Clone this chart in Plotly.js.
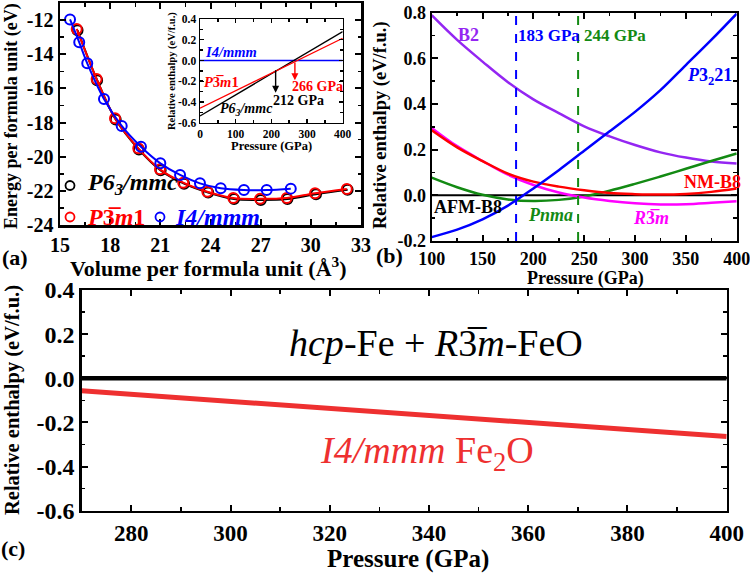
<!DOCTYPE html>
<html><head><meta charset="utf-8">
<script src="https://cdn.plot.ly/plotly-3.0.1.min.js"></script>
<style>html,body{margin:0;padding:0;background:#fff}#chart{width:750px;height:574px}</style>
</head><body><div id="chart"></div>
<script>
// ---------- Panel (a): E(V) ----------
const volP63  = [16.05, 17.22, 18.33, 19.72, 21.02, 22.42, 23.86, 25.41, 27.01, 28.6, 30.31, 32.2];
const eP63    = [-12.6, -15.52, -17.82, -19.58, -20.8, -21.58, -22.1, -22.48, -22.53, -22.48, -22.2, -21.94];
const volP3m1 = [16.0, 17.19, 18.29, 19.68, 20.98, 22.37, 23.81, 25.36, 26.96, 28.56, 30.25, 32.15];
const eP3m1   = [-12.52, -15.45, -17.75, -19.51, -20.74, -21.52, -22.05, -22.42, -22.47, -22.42, -22.14, -21.89];
const volI4   = [15.6, 16.15, 16.63, 17.63, 18.69, 19.84, 21.0, 22.18, 23.37, 24.61, 26.0, 27.36, 28.8];
const eI4     = [-11.96, -13.3, -14.53, -16.62, -18.2, -19.42, -20.39, -21.07, -21.56, -21.85, -21.95, -21.95, -21.87];
const aXTicks = [15, 18, 21, 24, 27, 30, 33];
const aYTicks = [-24, -22, -20, -18, -16, -14, -12];
const aYText  = ['-24', '-22', '-20', '-18', '-16', '-14', '-12'];

// ---------- Inset: relative enthalpy of Fe2O ----------
const pInset   = [0, 400];
const hInP63   = [-0.535, 0.278];
const hInP3m1  = [-0.461, 0.214];
const hInI4    = [0, 0];
const crossP   = [212, 266];
const inXTicks = [0, 100, 200, 300, 400];
const inYTicks = [-0.6, -0.4, -0.2, 0, 0.2, 0.4];
const inYText  = ['-0.6', '-0.4', '-0.2', '0.0', '0.2', '0.4'];

// ---------- Panel (b): FeO phases ----------
const pB     = [100, 125, 150, 175, 200, 225, 250, 275, 300, 325, 350, 375, 400];
const hB2    = [0.788, 0.68, 0.585, 0.495, 0.42, 0.36, 0.302, 0.258, 0.22, 0.188, 0.165, 0.148, 0.139];
const hP3221 = [-0.183, -0.15, -0.105, -0.045, 0.03, 0.11, 0.195, 0.28, 0.365, 0.46, 0.57, 0.68, 0.795];
const hNMB8  = [0.285, 0.21, 0.15, 0.095, 0.06, 0.038, 0.022, 0.01, 0.005, 0.003, 0.006, 0.015, 0.03];
const hR3m   = [0.295, 0.215, 0.15, 0.09, 0.045, 0.012, -0.01, -0.025, -0.035, -0.04, -0.039, -0.033, -0.026];
const hPnma  = [0.077, 0.035, 0.002, -0.018, -0.025, -0.02, -0.005, 0.02, 0.05, 0.082, 0.116, 0.15, 0.183];
const hAFMB8 = [0, 0, 0, 0, 0, 0, 0, 0, 0, 0, 0, 0, 0];
const transP = [183, 244];
const bXTicks = [100, 150, 200, 250, 300, 350, 400];
const bYTicks = [-0.2, 0, 0.2, 0.4, 0.6, 0.8];
const bYText  = ['-0.2', '0.0', '0.2', '0.4', '0.6', '0.8'];

// ---------- Panel (c): Fe2O vs hcp-Fe + FeO ----------
const pC     = [270, 400];
const hRef   = [0, 0];
const hFe2O  = [-0.057, -0.264];
const cXTicks = [280, 300, 320, 340, 360, 380, 400];
const cYTicks = [-0.6, -0.4, -0.2, 0, 0.2, 0.4];
const cYText  = ['-0.6', '-0.4', '-0.2', '0.0', '0.2', '0.4'];

// ---------- helpers ----------
const FF = 'Liberation Serif';
const W = 750, H = 574;
const px = x => x / W, py = y => 1 - y / H;
const BLUE = '#0000ff', RED = '#ff0000', PURPLE = '#9426f2', MAG = '#ff00ff', GREEN = '#138a13';
const BAR3 = '3\u0305';

function ax(o) {
  return Object.assign({
    showgrid: false, zeroline: false, showline: true, linecolor: 'black', linewidth: 2,
    mirror: 'allticks', ticks: 'inside', ticklen: 6, tickwidth: 2, tickcolor: 'black',
    tickmode: 'array', fixedrange: true, ticklabeloverflow: 'allow',
    tickfont: {family: FF, size: 18, color: 'black', weight: 'bold'}
  }, o);
}
function minor(d, t0, len) { return {ticks: 'inside', ticklen: len || 3.5, tickwidth: 1.5, tickcolor: 'black', dtick: d, tick0: t0}; }
function ann(text, x, y, size, color, opt) {
  return Object.assign({text: text, x: px(x), y: py(y), xref: 'paper', yref: 'paper', showarrow: false,
    xanchor: 'center', yanchor: 'middle',
    font: {family: FF, size: size, color: color || 'black', weight: 'bold'}}, opt || {});
}

const traces = [
  // (a)
  {x: volP63, y: eP63, xaxis: 'x', yaxis: 'y', mode: 'lines+markers', line: {color: 'black', width: 2, shape: 'spline'},
   marker: {symbol: 'circle-open', size: 10, color: 'black', line: {width: 2}}},
  {x: volP3m1, y: eP3m1, xaxis: 'x', yaxis: 'y', mode: 'lines+markers', line: {color: RED, width: 2, shape: 'spline'},
   marker: {symbol: 'circle-open', size: 10, color: RED, line: {width: 2}}},
  {x: volI4, y: eI4, xaxis: 'x', yaxis: 'y', mode: 'lines+markers', line: {color: BLUE, width: 2, shape: 'spline'},
   marker: {symbol: 'circle-open', size: 10, color: BLUE, line: {width: 2}}},
  // inset
  {x: pInset, y: hInI4, xaxis: 'x2', yaxis: 'y2', mode: 'lines', line: {color: BLUE, width: 1.3}},
  {x: pInset, y: hInP63, xaxis: 'x2', yaxis: 'y2', mode: 'lines', line: {color: 'black', width: 1.3}},
  {x: pInset, y: hInP3m1, xaxis: 'x2', yaxis: 'y2', mode: 'lines', line: {color: RED, width: 1.3}},
  // (b)
  {x: pB, y: hAFMB8, xaxis: 'x3', yaxis: 'y3', mode: 'lines', line: {color: 'black', width: 2}},
  {x: pB, y: hB2, xaxis: 'x3', yaxis: 'y3', mode: 'lines', line: {color: PURPLE, width: 2.5, shape: 'spline'}},
  {x: pB, y: hPnma, xaxis: 'x3', yaxis: 'y3', mode: 'lines', line: {color: GREEN, width: 2.5, shape: 'spline'}},
  {x: pB, y: hR3m, xaxis: 'x3', yaxis: 'y3', mode: 'lines', line: {color: MAG, width: 2.5, shape: 'spline'}},
  {x: pB, y: hNMB8, xaxis: 'x3', yaxis: 'y3', mode: 'lines', line: {color: RED, width: 2.5, shape: 'spline'}},
  {x: pB, y: hP3221, xaxis: 'x3', yaxis: 'y3', mode: 'lines', line: {color: BLUE, width: 2.5, shape: 'spline'}},
  // (c)
  {x: pC, y: hRef, xaxis: 'x4', yaxis: 'y4', mode: 'lines', line: {color: 'black', width: 4.5}},
  {x: pC, y: hFe2O, xaxis: 'x4', yaxis: 'y4', mode: 'lines', line: {color: '#ee3030', width: 5}}
];

const layout = {
  width: W, height: H, margin: {l: 0, r: 0, t: 0, b: 0}, showlegend: false,
  paper_bgcolor: 'white', plot_bgcolor: 'rgba(0,0,0,0)',
  font: {family: FF, color: 'black'},
  xaxis: ax({domain: [px(60), px(361)], range: [15, 33], anchor: 'y', tickvals: aXTicks, linewidth: 2.5,
    tickfont: {family: FF, size: 20, color: 'black', weight: 'bold'}, minor: minor(1.5, 15)}),
  yaxis: ax({domain: [py(225), py(3)], range: [-24, -11], anchor: 'x', tickvals: aYTicks, ticktext: aYText, linewidth: 2.5,
    tickfont: {family: FF, size: 20, color: 'black', weight: 'bold'}, minor: minor(1, -24)}),
  xaxis2: ax({domain: [px(200), px(342.7)], range: [0, 400], anchor: 'y2', tickvals: inXTicks, linewidth: 1.5,
    ticklen: 4, tickwidth: 1.3, tickfont: {family: FF, size: 11.5, color: 'black', weight: 'bold'}, minor: minor(50, 0, 2.5)}),
  yaxis2: ax({domain: [py(122.7), py(19)], range: [-0.6, 0.4], anchor: 'x2', tickvals: inYTicks, ticktext: inYText, linewidth: 1.5,
    ticklen: 4, tickwidth: 1.3, tickfont: {family: FF, size: 11.5, color: 'black', weight: 'bold'}, minor: minor(0.1, -0.6, 2.5)}),
  xaxis3: ax({domain: [px(431.7), px(736.7)], range: [100, 400], anchor: 'y3', tickvals: bXTicks, minor: minor(25, 100),
    tickfont: {family: FF, size: 18, color: 'black', weight: 'bold'}}),
  yaxis3: ax({domain: [py(241), py(12.5)], range: [-0.2, 0.8], anchor: 'x3', tickvals: bYTicks, ticktext: bYText, minor: minor(0.1, -0.2),
    tickfont: {family: FF, size: 18, color: 'black', weight: 'bold'}}),
  xaxis4: ax({domain: [px(81.7), px(726.7)], range: [270, 400], anchor: 'y4', tickvals: cXTicks, linewidth: 2.5,
    tickfont: {family: FF, size: 23, color: 'black', weight: 'bold'}, minor: minor(10, 270)}),
  yaxis4: ax({domain: [py(510.7), py(290)], range: [-0.6, 0.4], anchor: 'x4', tickvals: cYTicks, ticktext: cYText, linewidth: 2.5,
    tickfont: {family: FF, size: 24, color: 'black', weight: 'bold'}, minor: minor(0.1, -0.6)}),
  shapes: [
    {type: 'line', xref: 'x3', yref: 'y3 domain', x0: transP[0], x1: transP[0], y0: 0, y1: 1, line: {color: BLUE, width: 2, dash: 'dash'}},
    {type: 'line', xref: 'x3', yref: 'y3 domain', x0: transP[1], x1: transP[1], y0: 0, y1: 1, line: {color: GREEN, width: 2, dash: 'dash'}},
    // legend symbols in (a)
    {type: 'circle', xref: 'paper', yref: 'paper', xsizemode: 'pixel', ysizemode: 'pixel', xanchor: px(70), yanchor: py(185.5),
     x0: -4.5, x1: 4.5, y0: -4.5, y1: 4.5, line: {color: 'black', width: 1.8}},
    {type: 'circle', xref: 'paper', yref: 'paper', xsizemode: 'pixel', ysizemode: 'pixel', xanchor: px(70), yanchor: py(217),
     x0: -4.5, x1: 4.5, y0: -4.5, y1: 4.5, line: {color: RED, width: 1.8}},
    {type: 'circle', xref: 'paper', yref: 'paper', xsizemode: 'pixel', ysizemode: 'pixel', xanchor: px(160), yanchor: py(217),
     x0: -4.5, x1: 4.5, y0: -4.5, y1: 4.5, line: {color: BLUE, width: 1.8}}
  ],
  annotations: [
    // panel (a)
    ann('Energy per formula unit (eV)', 11, 116, 18, 'black', {textangle: -90}),
    ann('Volume per formula unit (Å<sup>3</sup>)', 208, 267, 22),
    ann('(a)', 15, 257, 22),
    ann('<i>P6<sub>3</sub>/mmc</i>', 85, 184, 24, 'black', {xanchor: 'left'}),
    ann('<i>P</i>' + BAR3 + '<i>m</i>1', 85, 217, 24, RED, {xanchor: 'left'}),
    ann('<i>I4/mmm</i>', 173, 217, 24, BLUE, {xanchor: 'left'}),
    // inset
    ann('Relative enthalpy (eV/f.u.)', 172, 71, 10.5, 'black', {textangle: -90}),
    ann('Pressure (GPa)', 271, 146, 12.5),
    ann('<i>I4/mmm</i>', 203, 52, 14.5, BLUE, {xanchor: 'left'}),
    ann('<i>P</i>' + BAR3 + '<i>m</i>1', 202, 82, 14.5, RED, {xanchor: 'left'}),
    ann('266 GPa', 290, 86, 14, RED, {xanchor: 'left'}),
    ann('212 GPa', 271, 100, 14, 'black', {xanchor: 'left'}),
    ann('<i>P6<sub>3</sub>/mmc</i>', 218, 109, 14, 'black', {xanchor: 'left'}),
    {text: '', x: crossP[0], y: -0.31, ax: crossP[0], ay: -0.08, xref: 'x2', yref: 'y2', axref: 'x2', ayref: 'y2',
     showarrow: true, arrowhead: 2, arrowsize: 1, arrowwidth: 1.4, arrowcolor: 'black', standoff: 0},
    {text: '', x: crossP[1], y: -0.19, ax: crossP[1], ay: -0.005, xref: 'x2', yref: 'y2', axref: 'x2', ayref: 'y2',
     showarrow: true, arrowhead: 2, arrowsize: 1, arrowwidth: 1.4, arrowcolor: RED, standoff: 0},
    // panel (b)
    ann('Relative enthalpy (eV/f.u.)', 381, 125, 18.5, 'black', {textangle: -90}),
    ann('Pressure (GPa)', 585, 278, 18),
    ann('(b)', 389, 255, 22),
    ann('B2', 456, 35, 18, PURPLE, {xanchor: 'left'}),
    ann('183 GPa', 516, 35, 17, BLUE, {xanchor: 'left'}),
    ann('244 GPa', 582, 35, 17, GREEN, {xanchor: 'left'}),
    ann('<i>P</i>3<sub>2</sub>21', 685, 76, 18, BLUE, {xanchor: 'left'}),
    ann('NM-B8', 682, 182, 18, RED, {xanchor: 'left'}),
    ann('AFM-B8', 432, 207, 18, 'black', {xanchor: 'left'}),
    ann('<i>Pnma</i>', 526, 215, 18, GREEN, {xanchor: 'left'}),
    ann('<i>R</i>' + BAR3 + '<i>m</i>', 631, 218, 18, MAG, {xanchor: 'left'}),
    // panel (c)
    ann('Relative enthalpy (eV/f.u.)', 12, 400, 20.5, 'black', {textangle: -90}),
    ann('Pressure (GPa)', 408, 559, 25),
    ann('(c)', 13, 548, 22),
    ann('<i>hcp</i>-Fe + <i>R</i>' + BAR3 + '<i>m</i>-FeO', 436, 343, 38, 'black', {font: {family: FF, size: 38, color: 'black'}}),
    ann('<i>I4/mmm</i> Fe<sub>2</sub>O', 427, 453, 38, '#ee3030', {font: {family: FF, size: 38, color: '#ee3030'}})
  ]
};

Plotly.newPlot('chart', traces, layout, {staticPlot: true, displayModeBar: false});
</script>
</body></html>
